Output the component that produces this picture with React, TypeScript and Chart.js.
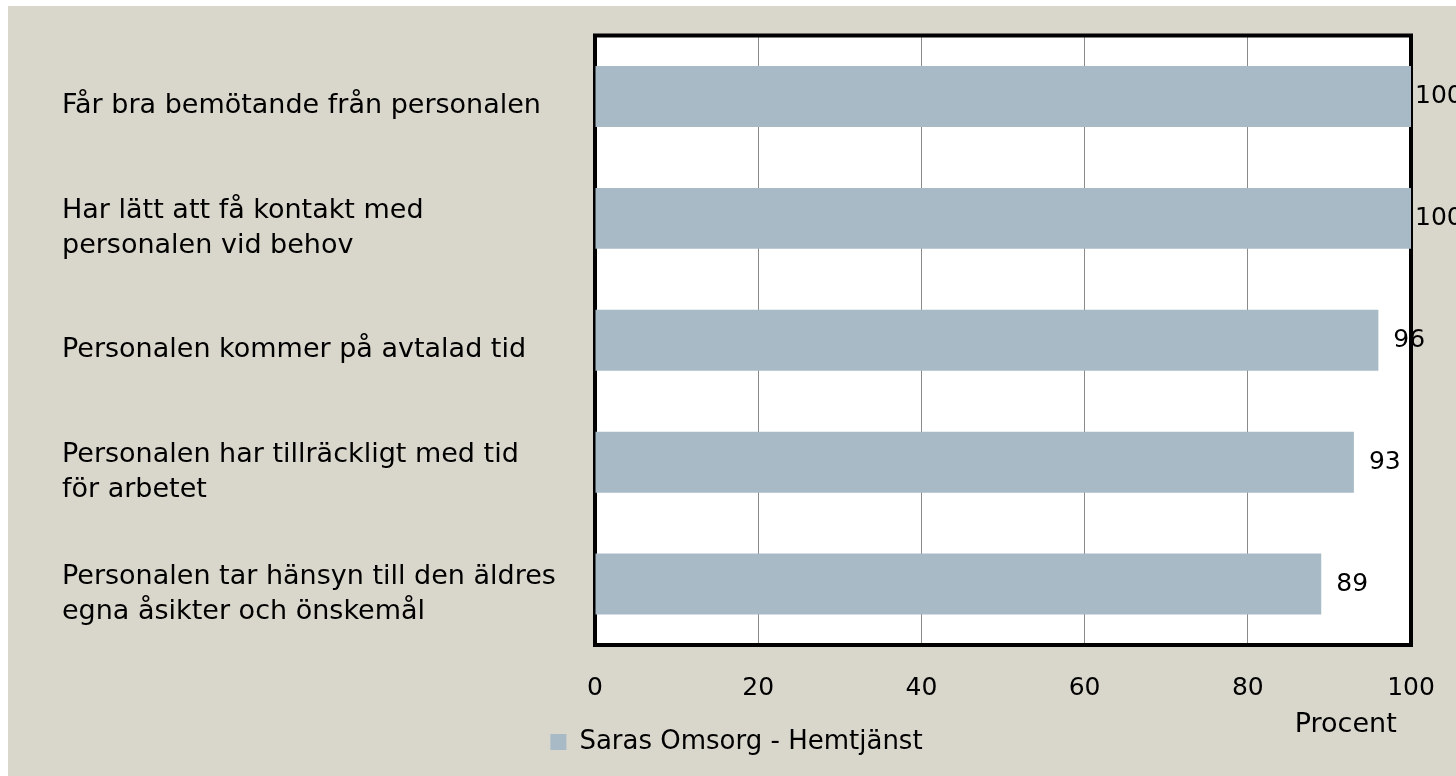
import React, { useEffect, useRef } from "react";
import { Chart, registerables } from "chart.js";

Chart.register(...registerables);

const categories: (string | string[])[] = [
  "Får bra bemötande från personalen",
  ["Har lätt att få kontakt med", "personalen vid behov"],
  "Personalen kommer på avtalad tid",
  ["Personalen har tillräckligt med tid", "för arbetet"],
  ["Personalen tar hänsyn till den äldres", "egna åsikter och önskemål"],
];
const seriesName = "Saras Omsorg - Hemtjänst";
const values = [100, 100, 96, 93, 89];
const xTicks = [0, 20, 40, 60, 80, 100];
const axisTitle = "Procent";

const FONT = "'DejaVu Sans', sans-serif";
const BG = "#D9D7CC";
const BAR = "#A7BAC6";

const framePlugin = {
  id: "frame",
  beforeDraw(chart: any) {
    const { ctx, chartArea: a } = chart;
    ctx.save();
    ctx.fillStyle = "#ffffff";
    ctx.fillRect(a.left, a.top, a.right - a.left, a.bottom - a.top);
    ctx.restore();
  },
  beforeDatasetsDraw(chart: any) {
    const { ctx, chartArea: a } = chart;
    ctx.save();
    ctx.strokeStyle = "#000000";
    ctx.lineWidth = 4;
    ctx.strokeRect(a.left, a.top, a.right - a.left, a.bottom - a.top);
    ctx.restore();
  },
  afterDatasetsDraw(chart: any) {
    const { ctx, chartArea: a } = chart;
    const meta = chart.getDatasetMeta(0);
    ctx.save();
    ctx.fillStyle = "#000000";
    ctx.font = `25px ${FONT}`;
    ctx.textAlign = "left";
    ctx.textBaseline = "middle";
    meta.data.forEach((bar: any, i: number) => {
      const x = Math.min(bar.x + 15, a.right + 4);
      ctx.fillText(String(values[i]), x, bar.y);
    });
    // axis title
    const xs = chart.scales.x;
    ctx.textAlign = "center";
    ctx.font = `27px ${FONT}`;
    ctx.fillText(axisTitle, xs.getPixelForValue(92), a.bottom + 80);
    ctx.restore();
  },
};

export default function App() {
  const ref = useRef<HTMLCanvasElement>(null);
  useEffect(() => {
    if (!ref.current) return;
    const chart = new Chart(ref.current, {
      type: "bar",
      data: {
        labels: categories,
        datasets: [
          {
            label: seriesName,
            data: values,
            backgroundColor: BAR,
            borderWidth: 0,
            barPercentage: 0.5,
            categoryPercentage: 1,
          },
        ],
      },
      options: {
        indexAxis: "y",
        responsive: false,
        animation: false,
        layout: { padding: { top: 29.5, left: 54, right: 45, bottom: 11 } },
        plugins: {
          legend: {
            position: "bottom",
            align: "center",
            labels: {
              color: "#000",
              font: { family: FONT, size: 26 },
              boxWidth: 16,
              boxHeight: 16,
              padding: 10,
            },
          },
          tooltip: { enabled: false },
        },
        scales: {
          x: {
            min: 0,
            max: 100,
            afterBuildTicks: (scale: any) => {
              scale.ticks = xTicks.map((v) => ({ value: v }));
            },
            afterFit: (scale: any) => {
              scale.height = 74;
              scale.paddingLeft = 0;
              scale.paddingRight = 0;
            },
            grid: { color: "#8a8a8a", lineWidth: 1, drawTicks: false },
            border: { display: false },
            ticks: {
              color: "#000",
              font: { family: FONT, size: 25 },
              padding: 28,
            },
          },
          y: {
            afterFit: (scale: any) => {
              scale.width = 533;
              scale.paddingTop = 0;
              scale.paddingBottom = 0;
            },
            grid: { display: false },
            border: { display: false },
            ticks: {
              color: "#000",
              crossAlign: "far",
              labelOffset: 10,
              font: { family: FONT, size: 27, lineHeight: 1.3 },
            },
          },
        },
      },
      plugins: [framePlugin],
    });
    return () => chart.destroy();
  }, []);
  return (
    <div
      style={{
        position: "absolute",
        left: 8,
        top: 6,
        width: 1448,
        height: 770,
        background: BG,
      }}
    >
      <canvas ref={ref} width={1448} height={770} />
    </div>
  );
}
